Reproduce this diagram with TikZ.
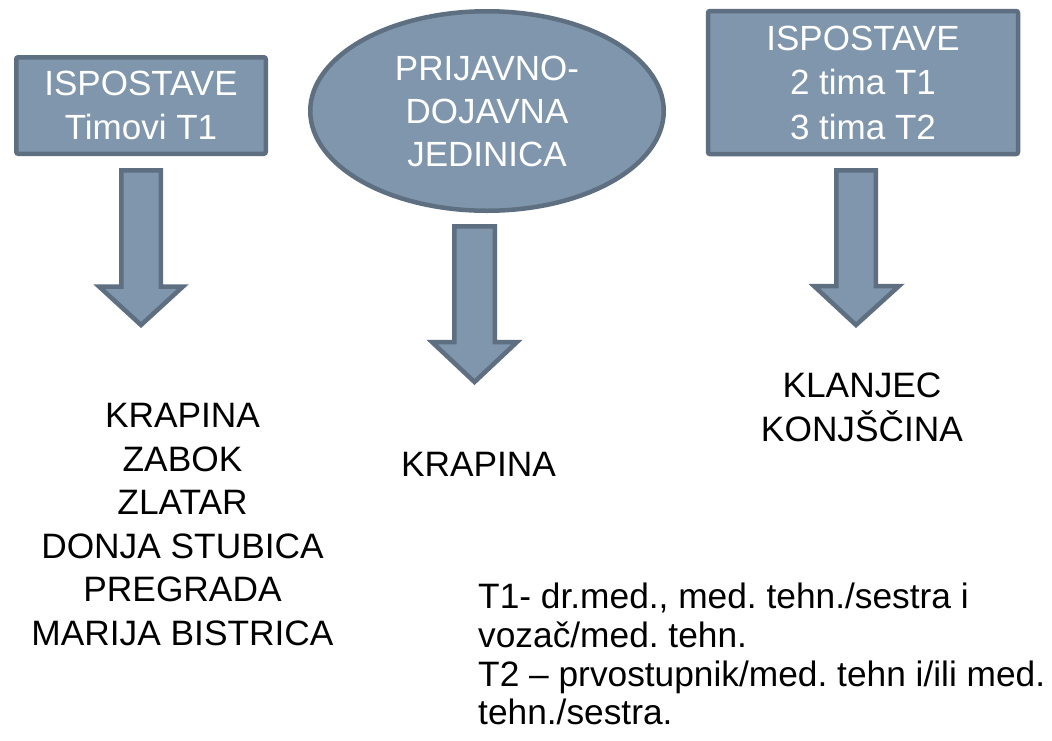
\documentclass[tikz,border=0pt]{standalone}
\usepackage{fontspec}
\setmainfont{Liberation Sans}
\usetikzlibrary{shapes.geometric}
\definecolor{fillblue}{RGB}{127,150,172}
\definecolor{edgeblue}{RGB}{93,111,128}
\frenchspacing
\begin{document}
\begin{tikzpicture}[x=1pt,y=-1pt,
  shapebox/.style={draw=edgeblue,fill=fillblue,line width=4.5pt,inner sep=0pt,
    text=white,align=center,font=\fontsize{35}{44.5}\selectfont},
  listtext/.style={text=black,align=center,inner sep=0pt,font=\fontsize{35.3}{43.6}\selectfont},
  blockarrow/.style={draw=edgeblue,fill=fillblue,line width=4.5pt,line join=miter}]
\useasboundingbox (0,0) rectangle (1052,740);
\fill[white] (0,0) rectangle (1052,740);
% boxes
\node[shapebox,rectangle,rounded corners=2pt,minimum width=249.5pt,minimum height=96.5pt]
  (boxL) at (141,105.5) {ISPOSTAVE\\Timovi T1};
\node[shapebox,ellipse,minimum width=353.5pt,minimum height=199.5pt,font=\fontsize{35}{43}\selectfont]
  (oval) at (487,111) {PRIJAVNO-\\DOJAVNA\\JEDINICA};
\node[shapebox,rectangle,rounded corners=2pt,minimum width=310pt,minimum height=143pt]
  (boxR) at (863,82.5) {ISPOSTAVE\\2 tima T1\\3 tima T2};
% block arrows
\draw[blockarrow] (121.25,170.25) -- (160.75,170.25) -- (160.75,286.5) -- (183,286.5)
  -- (141,325) -- (99,286.5) -- (121.25,286.5) -- cycle;
\draw[blockarrow] (454.25,226.25) -- (494.75,226.25) -- (494.75,342) -- (517,342)
  -- (474.5,382) -- (432,342) -- (454.25,342) -- cycle;
\draw[blockarrow] (836.25,170.25) -- (875.75,170.25) -- (875.75,286) -- (899,286)
  -- (856,325) -- (814,286) -- (836.25,286) -- cycle;
% texts
\node[listtext,anchor=north] (listL) at (182.5,403)
  {KRAPINA\\ZABOK\\ZLATAR\\DONJA STUBICA\\PREGRADA\\MARIJA BISTRICA};
\node[listtext,anchor=north] (listM) at (478.5,452) {KRAPINA};
\node[listtext,anchor=north,font=\fontsize{35.3}{44}\selectfont] (listR) at (862,373)
  {KLANJEC\\KONJŠČINA};
\node[listtext,align=left,anchor=north west,font=\fontsize{35.3}{38.7}\selectfont\frenchspacing]
  (legend) at (478,583)
  {T1- dr.med., med. tehn./sestra i\\vozač/med. tehn.\\T2 – prvostupnik/med. tehn i/ili med.\\tehn./sestra.};
\end{tikzpicture}
\end{document}
